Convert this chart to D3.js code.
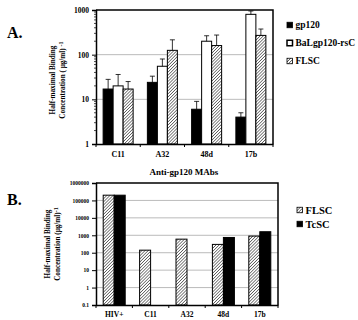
<!DOCTYPE html>
<html><head><meta charset="utf-8">
<script src="https://cdn.jsdelivr.net/npm/d3@7"></script>
<style>
body{margin:0;background:#fff;}
svg{display:block;font-family:"Liberation Serif","Times New Roman",serif;font-weight:bold;}
</style></head>
<body><svg id="c" width="358" height="320"></svg>
<script>
// ---- Panel A data ----
const categoriesA = ["C11", "A32", "48d", "17b"];
const seriesA = ["gp120", "BaLgp120-rsC", "FLSC"];
const gp120Vals = [17, 24, 6, 4];
const gp120Err = [28, 33, 9, 5];
const balVals = [20, 55, 200, 800];
const balErr = [36, 80, 265, 950];
const flscVals = [17, 125, 160, 270];
const flscErr = [25, 215, 275, 375];
const ticksA = [1, 10, 100, 1000];

// ---- Panel B data ----
const categoriesB = ["HIV+", "C11", "A32", "48d", "17b"];
const seriesB = ["FLSC", "TcSC"];
const flscB = [200000, 140, 600, 300, 900];
const tcscB = [200000, null, null, 750, 1600];
const ticksB = [0.1, 1, 10, 100, 1000, 10000, 100000, 1000000];
const tickLabelsB = ["0.1", "1", "10", "100", "1000", "10000", "100000", "1000000"];

const svg = d3.select("#c");
const defs = svg.append("defs");
const pat = defs.append("pattern").attr("id", "hatch").attr("patternUnits", "userSpaceOnUse")
  .attr("width", 2.2).attr("height", 2.2).attr("patternTransform", "rotate(45)");
pat.append("rect").attr("width", 2.2).attr("height", 2.2).attr("fill", "#fff");
pat.append("line").attr("x1", 0).attr("y1", 0).attr("x2", 0).attr("y2", 2.2)
  .attr("stroke", "#333").attr("stroke-width", 1.2);

const fills = {"gp120": "#000", "BaLgp120-rsC": "#fff", "FLSC": "url(#hatch)", "TcSC": "#000"};

function panel(opt) {
  const g = svg.append("g");
  const x = d3.scaleBand().domain(opt.cats).range([opt.x0, opt.x1]);
  const y = d3.scaleLog().domain(opt.ydom).range([opt.y1, opt.y0]);
  const inner = d3.scaleBand().domain(opt.series).range([0, opt.groupW]);
  g.append("g").selectAll("line").data(opt.ticks.slice(1, -1)).join("line")
    .attr("x1", opt.x0).attr("x2", opt.x1).attr("y1", d => y(d)).attr("y2", d => y(d))
    .attr("stroke", "#aaa").attr("stroke-width", 0.8);
  g.append("path").attr("d", `M${opt.x0},${opt.y0}H${opt.x1}V${opt.y1}`)
    .attr("fill", "none").attr("stroke", "#000").attr("stroke-width", 1.5);
  opt.series.forEach((s, si) => {
    const vals = opt.values[si];
    const errs = opt.errors ? opt.errors[si] : null;
    opt.cats.forEach((c, ci) => {
      const v = vals[ci];
      if (v == null) return;
      const bx = x(c) + (x.bandwidth() - opt.groupW) / 2 + inner(s);
      g.append("rect").attr("x", bx).attr("y", y(v)).attr("width", inner.bandwidth())
        .attr("height", opt.y1 - y(v)).attr("fill", fills[s]).attr("stroke", "#000").attr("stroke-width", 1);
      if (errs) {
        const cx = bx + inner.bandwidth() / 2;
        g.append("line").attr("x1", cx).attr("x2", cx).attr("y1", y(v)).attr("y2", y(errs[ci]))
          .attr("stroke", "#000").attr("stroke-width", 0.8);
        g.append("line").attr("x1", cx - 2.5).attr("x2", cx + 2.5).attr("y1", y(errs[ci])).attr("y2", y(errs[ci]))
          .attr("stroke", "#000").attr("stroke-width", 0.8);
      }
    });
  });
  const ya = g.append("g").attr("transform", `translate(${opt.x0},0)`)
    .call(d3.axisLeft(y).tickValues(opt.ticks).tickFormat((d, i) => opt.tickLabels[i]).tickSize(4).tickPadding(3));
  ya.select(".domain").attr("stroke-width", 1.5);
  ya.selectAll("text").attr("font-size", opt.tickFont).attr("font-family", "Liberation Serif").attr("font-weight", "bold");
  if (opt.minor) {
    const minors = [];
    for (let d = opt.ydom[0]; d < opt.ydom[1]; d *= 10) for (let k = 2; k < 10; k++) minors.push(d * k);
    g.append("g").selectAll("line").data(minors).join("line")
      .attr("x1", opt.x0 - 2).attr("x2", opt.x0).attr("y1", d => y(d)).attr("y2", d => y(d))
      .attr("stroke", "#000").attr("stroke-width", 0.7);
  }
  const xa = g.append("g").attr("transform", `translate(0,${opt.y1})`)
    .call(d3.axisBottom(x).tickSize(0).tickPadding(7));
  xa.select(".domain").attr("stroke-width", 1.5);
  xa.selectAll("text").attr("font-size", opt.catFont).attr("font-family", "Liberation Serif").attr("font-weight", "bold");
  const bounds = opt.cats.map(c => x(c)).concat([opt.x1]);
  g.append("g").selectAll("line").data(bounds).join("line")
    .attr("x1", d => d).attr("x2", d => d).attr("y1", opt.y1).attr("y2", opt.y1 + 3)
    .attr("stroke", "#000").attr("stroke-width", 1);
  return {x, y};
}

panel({cats: categoriesA, series: seriesA, values: [gp120Vals, balVals, flscVals],
  errors: [gp120Err, balErr, flscErr], x0: 96, x1: 273, y0: 10, y1: 144,
  ydom: [1, 1000], ticks: ticksA, tickLabels: ticksA.map(String), groupW: 30,
  tickFont: 7.5, catFont: 8, minor: true});

panel({cats: categoriesB, series: seriesB, values: [flscB, tcscB], errors: null,
  x0: 96, x1: 278, y0: 183, y1: 305, ydom: [0.1, 1000000], ticks: ticksB, tickLabels: tickLabelsB,
  groupW: 22, tickFont: 5.5, catFont: 7.5, minor: false});

svg.append("text").attr("x", 7).attr("y", 38).attr("font-size", 16).text("A.");
svg.append("text").attr("x", 7).attr("y", 205).attr("font-size", 16).text("B.");

function ytitle(cx, cy, l1, l2, fs) {
  const t = svg.append("text").attr("transform", `translate(${cx},${cy}) rotate(-90)`)
    .attr("text-anchor", "middle").attr("font-size", fs);
  t.append("tspan").attr("x", 0).attr("dy", 0).text(l1);
  t.append("tspan").attr("x", 0).attr("dy", fs * 1.45).text(l2[0]);
  t.append("tspan").attr("dy", -fs * 0.4).attr("font-size", fs * 0.85).text(l2[1]);
}
ytitle(55, 80, "Half-maximal Binding", ["Concentration ( \u03bcg/ml) ", " -1"], 7.2);
ytitle(50, 244, "Half-maximal Binding", ["Concentration (\u03bcg/ml)", "-1"], 7.2);

svg.append("text").attr("x", 184).attr("y", 175).attr("text-anchor", "middle").attr("font-size", 9).text("Anti-gp120 MAbs");

function legend(x0, ys, names, fs, sq) {
  names.forEach((n, i) => {
    svg.append("rect").attr("x", x0).attr("y", ys[i] - sq / 2).attr("width", sq).attr("height", sq)
      .attr("fill", fills[n]).attr("stroke", "#000").attr("stroke-width", n === "BaLgp120-rsC" ? 1.5 : 0.8);
    svg.append("text").attr("x", x0 + sq + 3).attr("y", ys[i]).attr("dy", "0.35em").attr("font-size", fs).text(n);
  });
}
legend(287, [25, 43, 61], seriesA, 9.5, 5.5);
legend(297, [210, 224], seriesB, 10.5, 5.5);
</script></body></html>
